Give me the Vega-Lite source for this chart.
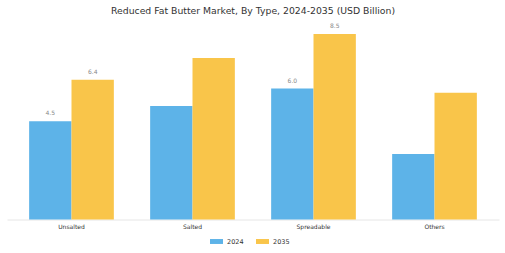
{
  "$schema": "https://vega.github.io/schema/vega-lite/v6.json",
  "autosize": "none",
  "width": 492,
  "height": 196.5,
  "padding": {"left": 7, "top": 23, "right": 6, "bottom": 34},
  "background": "white",
  "config": {"view": {"stroke": null}, "font": "DejaVu Sans"},
  "title": {
    "text": "Reduced Fat Butter Market, By Type, 2024-2035 (USD Billion)",
    "fontSize": 9.3,
    "font": "DejaVu Sans",
    "fontWeight": "normal",
    "color": "#333333",
    "anchor": "middle",
    "offset": 7
  },
  "data": {
    "values": [
      {"type": "Unsalted", "year": "2024", "value": 4.5, "label": "4.5"},
      {"type": "Unsalted", "year": "2035", "value": 6.4, "label": "6.4"},
      {"type": "Salted", "year": "2024", "value": 5.2, "label": ""},
      {"type": "Salted", "year": "2035", "value": 7.4, "label": ""},
      {"type": "Spreadable", "year": "2024", "value": 6.0, "label": "6.0"},
      {"type": "Spreadable", "year": "2035", "value": 8.5, "label": "8.5"},
      {"type": "Others", "year": "2024", "value": 3.0, "label": ""},
      {"type": "Others", "year": "2035", "value": 5.8, "label": ""}
    ]
  },
  "encoding": {
    "x": {
      "field": "type",
      "type": "nominal",
      "sort": ["Unsalted", "Salted", "Spreadable", "Others"],
      "scale": {"paddingInner": 0.3, "paddingOuter": 0.183},
      "axis": {
        "title": null,
        "labelAngle": 0,
        "ticks": false,
        "domainColor": "#e6e6e6",
        "domainWidth": 1,
        "labelFontSize": 6,
        "labelColor": "#333333",
        "labelPadding": 4
      }
    },
    "xOffset": {"field": "year", "type": "nominal", "scale": {"paddingInner": 0}},
    "y": {
      "field": "value",
      "type": "quantitative",
      "scale": {"domain": [0, 9]},
      "axis": null
    }
  },
  "layer": [
    {
      "mark": {"type": "bar"},
      "encoding": {
        "color": {
          "field": "year",
          "type": "nominal",
          "scale": {"domain": ["2024", "2035"], "range": ["#5DB3E8", "#F9C54A"]},
          "legend": {
            "title": null,
            "orient": "none",
            "legendX": 203,
            "legendY": 212,
            "direction": "horizontal",
            "symbolType": "M-1,-0.38L1,-0.38L1,0.38L-1,0.38Z",
            "symbolSize": 169,
            "symbolStrokeWidth": 0,
            "labelFontSize": 6.5,
            "labelColor": "#333333",
            "labelOffset": 4,
            "columnPadding": 12
          }
        }
      }
    },
    {
      "mark": {"type": "text", "baseline": "bottom", "dy": -5, "fontSize": 6, "color": "#888888"},
      "encoding": {"text": {"field": "label"}}
    }
  ]
}
